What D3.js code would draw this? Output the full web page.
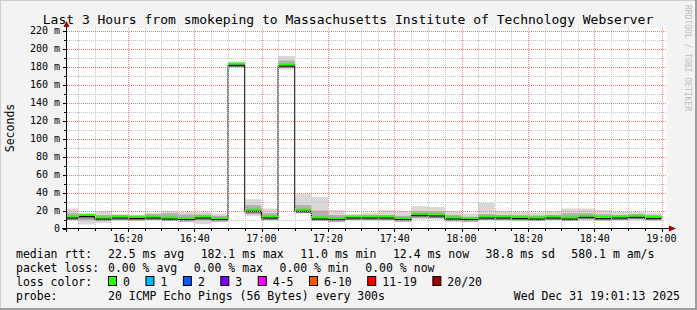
<!DOCTYPE html>
<html>
<head>
<meta charset="utf-8">
<script src="https://cdn.jsdelivr.net/npm/d3@7"></script>
<style>
html, body { margin: 0; padding: 0; background: #f3f3f3; }
svg { display: block; }
text { font-family: "DejaVu Sans Mono", monospace; fill: #000; }
</style>
</head>
<body>
<div id="chart"></div>
<script>
// 5 minute steps (start time of each step)
const stepStarts = ["16:00","16:05","16:10","16:15","16:20","16:25","16:30","16:35","16:40","16:45","16:50","16:55",
                    "17:00","17:05","17:10","17:15","17:20","17:25","17:30","17:35","17:40","17:45","17:50","17:55",
                    "18:00","18:05","18:10","18:15","18:20","18:25","18:30","18:35","18:40","18:45","18:50","18:55"];

// median rtt (ms) per step
const median   = [12.9,14.5,11.8,12.9,12.2,12.9,11.8,11.1,12.9,11.1,183.0,20.4,
                  12.9,182.0,20.4,11.8,11.1,12.9,12.9,12.9,11.1,15.9,15.2,11.8,
                  11.1,12.9,12.9,12.2,11.8,12.9,11.8,13.7,12.2,12.9,13.7,12.4];
// smoke: lowest / lower mid / upper mid / highest ping (ms)
const smokeMin = [10.0,4.5,6.2,8.5,8.5,10.0,8.5,9.2,4.8,10.0,180.5,14.0,
                  10.4,177.0,18.5,10.0,7.4,9.2,9.2,8.5,9.2,10.0,10.0,7.4,
                  10.0,10.0,8.5,9.2,8.5,10.0,8.5,9.2,10.0,9.2,10.0,10.0];
const smokeLo  = [11.5,9.0,9.0,10.5,10.0,11.5,10.0,10.0,9.0,10.5,181.5,16.0,
                  11.0,179.0,19.5,11.0,9.5,11.0,11.0,10.5,10.0,12.0,11.5,10.0,
                  10.5,11.5,10.5,10.5,10.5,11.0,10.0,11.0,11.0,11.0,12.0,11.5];
const smokeHi  = [17.0,16.0,15.0,15.0,14.5,16.0,17.0,15.5,15.5,14.0,184.5,26.0,
                  17.0,187.0,26.0,20.0,15.0,14.0,15.0,15.0,14.0,19.0,19.0,15.0,
                  13.0,16.0,15.0,15.0,14.5,15.0,17.0,17.0,16.0,15.0,16.0,15.0];
const smokeMax = [22.0,17.4,19.3,16.0,15.5,17.4,19.6,18.5,18.2,16.6,186.0,32.6,
                  22.3,192.0,38.2,35.0,20.4,16.0,17.4,20.4,19.6,24.8,24.0,19.6,
                  16.6,28.5,19.6,18.5,17.8,19.3,22.3,22.3,20.4,18.5,18.5,17.4];

const yTicks = [0,20,40,60,80,100,120,140,160,180,200,220];
const xTicks = ["16:20","16:40","17:00","17:20","17:40","18:00","18:20","18:40","19:00"];

const lossLabels = ["0","1","2","3","4-5","6-10","11-19","20/20"];
const lossColors = ["#26ff00","#00b8ff","#0059ff","#7e00ff","#ff00ff","#ff5500","#ff0000","#a10000"];

const rttStats  = ["22.5 ms avg","182.1 ms max","11.0 ms min","12.4 ms now","38.8 ms sd","580.1 m am/s"];
const lossStats = ["0.00 % avg","0.00 % max","0.00 % min","0.00 % now"];

const width = 697, height = 310;

// time as minutes after 16:00
function toMin(s) {
    const p = s.split(':').map(Number);
    return (p[0] - 16) * 60 + p[1] + (p[2] || 0) / 60;
}

const x = d3.scaleLinear()
    .domain([toMin("16:01:30"), toMin("19:01:30")])
    .range([66.4, 666.4]);
const y = d3.scaleLinear()
    .domain([0, 222.7])
    .range([228.5, 28.5]);

const svg = d3.select('#chart').append('svg')
    .attr('width', width)
    .attr('height', height);

// background and frame
svg.append('rect').attr('width', width).attr('height', height).attr('fill', '#f3f3f3');
svg.append('path').attr('d', `M0,${height}V0H${width}`).attr('fill', 'none')
    .attr('stroke', '#cfcfcf').attr('stroke-width', 2);
svg.append('path').attr('d', `M0,${height - 1}H${width - 1}V0`).attr('fill', 'none')
    .attr('stroke', '#9e9e9e').attr('stroke-width', 2);

// plot canvas
svg.append('rect')
    .attr('x', 67).attr('y', 28)
    .attr('width', 600).attr('height', 200)
    .attr('fill', '#ffffff');

svg.append('clipPath').attr('id', 'plotclip')
  .append('rect').attr('x', 67).attr('y', 28).attr('width', 600).attr('height', 200);

const steps = stepStarts.map((s, i) => ({
    t0: toMin(s),
    t1: toMin(s) + 5,
    median: median[i],
    min: smokeMin[i], lo: smokeLo[i], hi: smokeHi[i], max: smokeMax[i]
}));

const plot = svg.append('g').attr('clip-path', 'url(#plotclip)');

// smoke
const bands = [
    {lo: 'min', hi: 'max', color: '#d8d8d8'},
    {lo: 'lo', hi: 'hi', color: '#b0b0b0'}
];
bands.forEach(b => {
    plot.append('g').selectAll('rect')
        .data(steps)
        .enter().append('rect')
        .attr('x', d => x(d.t0))
        .attr('width', d => x(d.t1) - x(d.t0))
        .attr('y', d => y(d[b.hi]))
        .attr('height', d => y(d[b.lo]) - y(d[b.hi]))
        .attr('fill', b.color);
});
// darker core around the median
plot.append('g').selectAll('rect')
    .data(steps)
    .enter().append('rect')
    .attr('x', d => x(d.t0))
    .attr('width', d => x(d.t1) - x(d.t0))
    .attr('y', d => y(d.median) - 1)
    .attr('height', 4)
    .attr('fill', '#7a7a7a');

// grid (drawn over smoke, like rrdtool)
const px = v => Math.round(v) + 0.5;
const pxEven = v => 2 * Math.round(v / 2) + 0.5;  // major lines on even columns so the pink survives
const tMin = d3.range(5, 181, 5);
const grid = svg.append('g');
grid.selectAll('.gy').data(d3.range(10, 221, 20)).enter().append('line')
    .attr('x1', 67).attr('x2', 667)
    .attr('y1', d => px(y(d))).attr('y2', d => px(y(d)))
    .attr('stroke', '#c4c4c4').attr('stroke-dasharray', '1,1');
grid.selectAll('.gx').data(tMin.filter(m => m % 20 !== 0)).enter().append('line')
    .attr('y1', 28).attr('y2', 228)
    .attr('x1', d => px(x(d))).attr('x2', d => px(x(d)))
    .attr('stroke', '#c4c4c4').attr('stroke-dasharray', '1,1');
grid.selectAll('.my').data(yTicks.slice(1)).enter().append('line')
    .attr('x1', 67).attr('x2', 667)
    .attr('y1', d => px(y(d))).attr('y2', d => px(y(d)))
    .attr('stroke', '#f27c7c').attr('stroke-dasharray', '1,1');
grid.selectAll('.mx').data(xTicks).enter().append('line')
    .attr('y1', 28).attr('y2', 228)
    .attr('x1', d => pxEven(x(toMin(d)))).attr('x2', d => pxEven(x(toMin(d))))
    .attr('stroke', '#f28888').attr('stroke-dasharray', '1,1');

// median line: black step line with loss coloured segments on top
const stepLine = d3.line()
    .curve(d3.curveStepAfter)
    .x(d => x(d.t))
    .y(d => y(d.v) + 1);
const linePts = steps.map(d => ({t: d.t0, v: d.median}));
linePts.push({t: steps[steps.length - 1].t1, v: steps[steps.length - 1].median});
plot.append('path')
    .datum(linePts)
    .attr('d', stepLine)
    .attr('fill', 'none')
    .attr('stroke', '#000')
    .attr('stroke-width', 1);

plot.append('g').selectAll('line')
    .data(steps)
    .enter().append('line')
    .attr('x1', d => x(d.t0)).attr('x2', d => x(d.t1))
    .attr('y1', d => y(d.median) - 0.5).attr('y2', d => y(d.median) - 0.5)
    .attr('stroke', lossColors[0])
    .attr('stroke-width', 2);

// axes
const axisG = svg.append('g');
axisG.append('line').attr('x1', 66.5).attr('x2', 66.5).attr('y1', 232).attr('y2', 26)
    .attr('stroke', '#000');
axisG.append('line').attr('x1', 62).attr('x2', 671).attr('y1', 228.5).attr('y2', 228.5)
    .attr('stroke', '#000');
axisG.append('path').attr('d', 'M63.5,27L66.5,21L69.5,27Z').attr('fill', '#a00000');
axisG.append('path').attr('d', 'M669,225.5L676,228.5L669,231.5Z').attr('fill', '#a00000');

// y ticks and labels
axisG.selectAll('.yt').data(d3.range(0, 221, 10)).enter().append('line')
    .attr('x1', d => d % 20 === 0 ? 63 : 64).attr('x2', 66)
    .attr('y1', d => px(y(d))).attr('y2', d => px(y(d)))
    .attr('stroke', '#000');
axisG.selectAll('.yl').data(yTicks).enter().append('text')
    .attr('x', 60)
    .attr('y', d => y(d) + 3.5)
    .attr('text-anchor', 'end')
    .style('font-size', '10px')
    .text(d => d === 0 ? '0' : d + ' m');

// x ticks and labels
axisG.selectAll('.xt').data(tMin).enter().append('line')
    .attr('x1', d => d % 20 === 0 ? pxEven(x(d)) : px(x(d)))
    .attr('x2', d => d % 20 === 0 ? pxEven(x(d)) : px(x(d)))
    .attr('y1', 229).attr('y2', d => d % 20 === 0 ? 232 : 231)
    .attr('stroke', '#000');
axisG.selectAll('.xl').data(xTicks).enter().append('text')
    .attr('x', d => x(toMin(d)))
    .attr('y', 242)
    .attr('text-anchor', 'middle')
    .style('font-size', '10px')
    .text(d => d);

// title, unit, watermark
svg.append('text')
    .attr('x', 348).attr('y', 23.5)
    .attr('text-anchor', 'middle')
    .style('font-size', '13px')
    .text('Last 3 Hours from smokeping to Massachusetts Institute of Technology Webserver');
svg.append('text')
    .attr('transform', 'translate(14,128) rotate(-90)')
    .attr('text-anchor', 'middle')
    .style('font-size', '11.5px')
    .text('Seconds');
svg.append('text')
    .attr('transform', 'translate(685,5) rotate(90)')
    .style('font-size', '8px')
    .style('fill', '#bdbdbd')
    .text('RRDTOOL / TOBI OETIKER');

// legend: items laid out left to right with a fixed gap, like rrdtool
const legend = svg.append('g').style('font-size', '11.5px');
const rows = [258, 272, 286, 300];
const itemGap = 16.5;
function placeItems(items, row, startX) {
    let cx = startX;
    items.forEach(t => {
        const el = legend.append('text').attr('x', cx).attr('y', row).text(t);
        cx += el.node().getComputedTextLength() + itemGap;
    });
}
legend.append('text').attr('x', 16).attr('y', rows[0]).text('median rtt:');
placeItems(rttStats, rows[0], 108);
legend.append('text').attr('x', 16).attr('y', rows[1]).text('packet loss:');
placeItems(lossStats, rows[1], 108);

legend.append('text').attr('x', 16).attr('y', rows[2]).text('loss color:');
let bx = 108;
lossLabels.forEach((l, i) => {
    legend.append('rect')
        .attr('x', bx + 0.5).attr('y', rows[2] - 9.5)
        .attr('width', 8).attr('height', 9)
        .attr('fill', lossColors[i])
        .attr('stroke', '#000');
    const el = legend.append('text').attr('x', bx + 15).attr('y', rows[2]).text(l);
    bx += 15 + el.node().getComputedTextLength() + 15.5;
});
legend.append('text').attr('x', 16).attr('y', rows[3]).text('probe:');
legend.append('text').attr('x', 108).attr('y', rows[3]).text('20 ICMP Echo Pings (56 Bytes) every 300s');
legend.append('text').attr('x', 680).attr('y', rows[3]).attr('text-anchor', 'end').text('Wed Dec 31 19:01:13 2025');
</script>
</body>
</html>
